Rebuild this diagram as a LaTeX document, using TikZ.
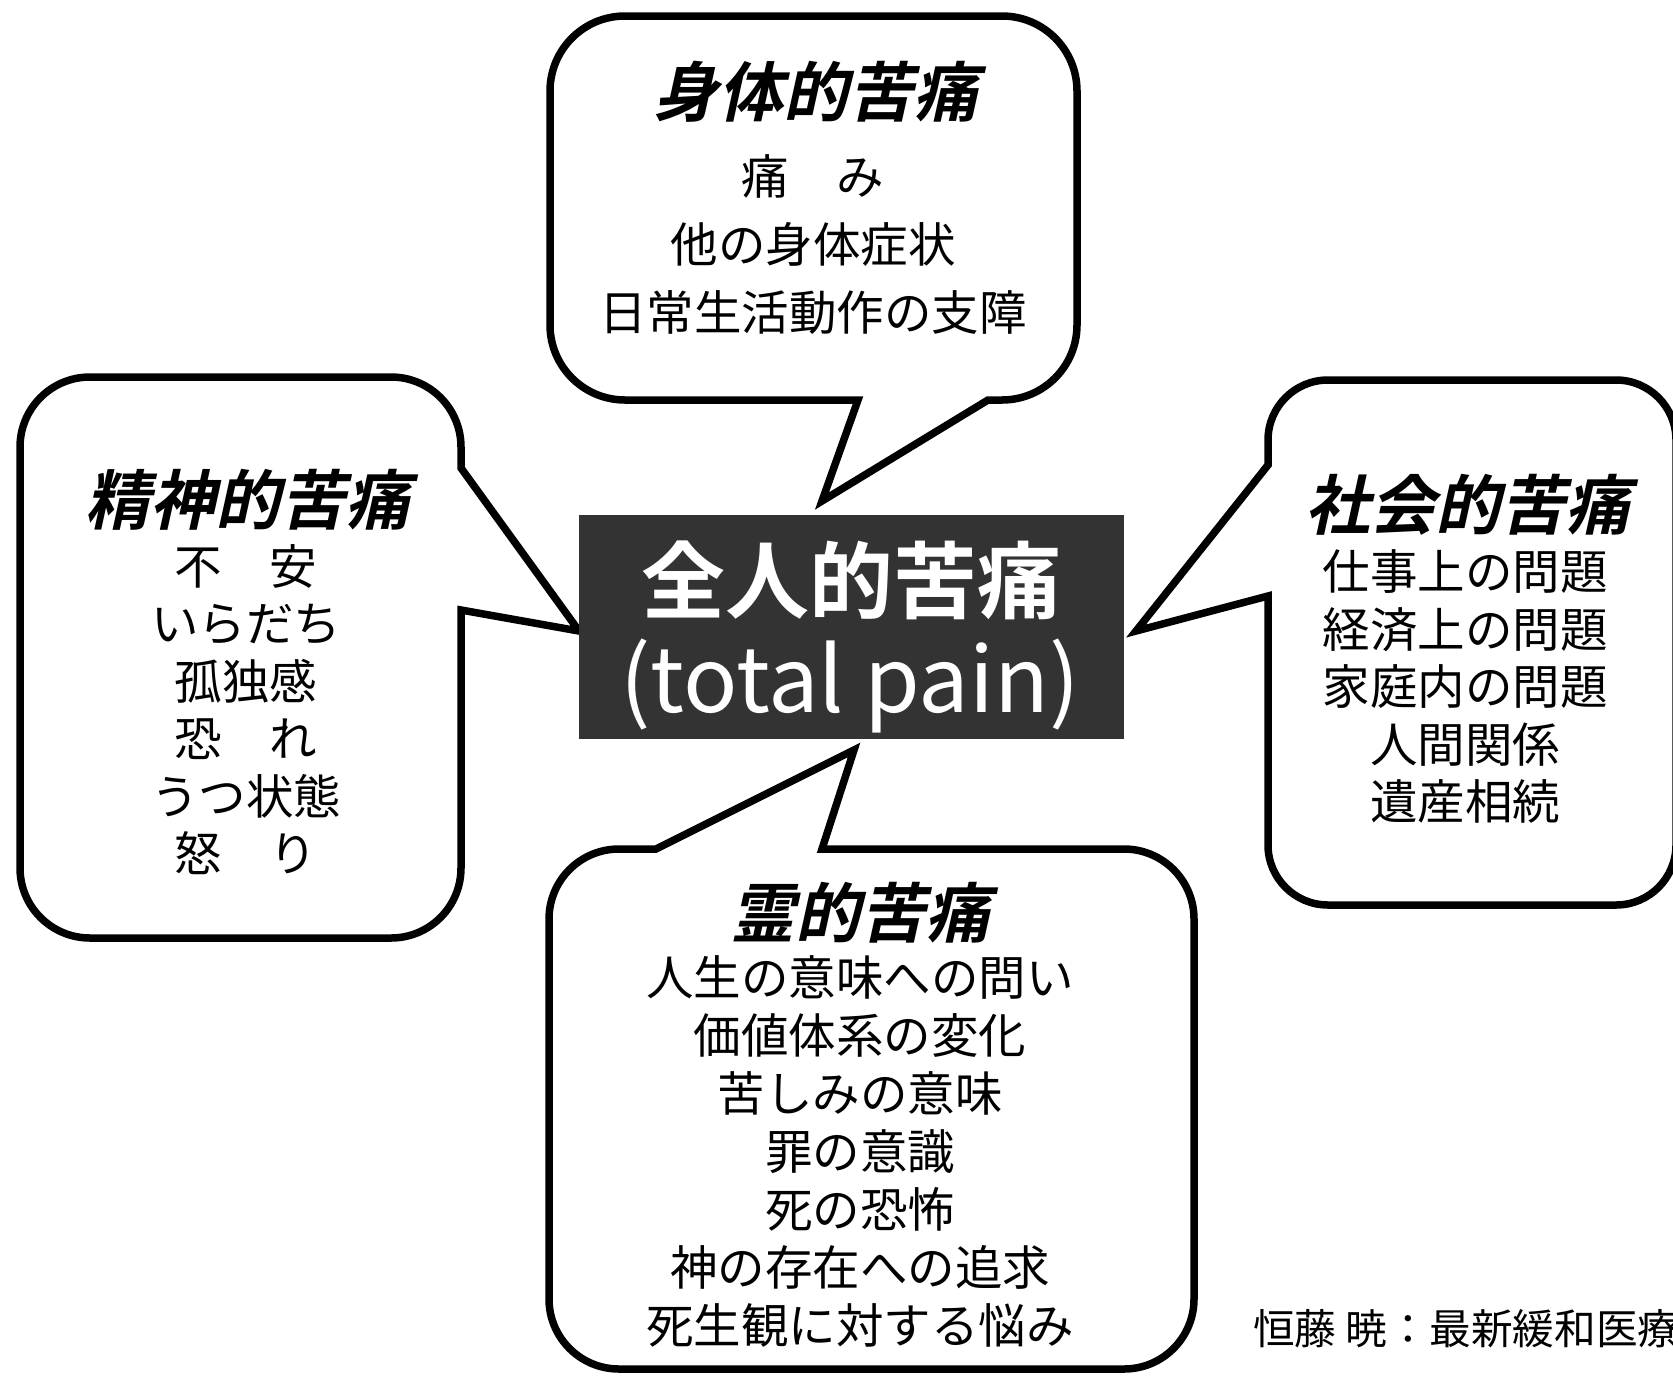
\documentclass[tikz,border=0pt]{standalone}
\usepackage{fontspec}
\setmainfont{Noto Sans CJK JP}
\newfontfamily\headfont[FakeSlant=0.22]{Noto Sans CJK JP Bold}
\newfontfamily\corefont{Noto Sans CJK JP Bold}
\definecolor{coregray}{HTML}{333333}
\tikzset{
	bubble/.style={draw=black, line width=7.5pt, fill=white},
	bubblehead/.style={font=\headfont\fontsize{65}{70}\selectfont, inner sep=0pt},
	bubbletext/.style={font=\fontsize{47.5}{57.5}\selectfont, align=center, inner sep=0pt},
	corebox/.style={fill=coregray, minimum width=545pt, minimum height=224pt, inner sep=0pt},
}

\begin{document}
\begin{tikzpicture}[x=1pt, y=-1pt]
		\useasboundingbox (0,0) rectangle (1673,1377);

		\draw[bubble] (625,16) -- (1002,16) arc[start angle=-90, end angle=0, radius=75] -- (1077,325) arc[start angle=0, end angle=90, radius=75] -- (988,400) -- (822,501) -- (858,400) -- (625,400) arc[start angle=90, end angle=180, radius=75] -- (550,91) arc[start angle=180, end angle=270, radius=75] -- cycle;
		\draw[bubble] (90,377) -- (391,377) arc[start angle=-90, end angle=0, radius=70] -- (461,468) -- (579,631) -- (461,610) -- (461,868) arc[start angle=0, end angle=90, radius=70] -- (90,938) arc[start angle=90, end angle=180, radius=70] -- (20,447) arc[start angle=180, end angle=270, radius=70] -- cycle;
		\draw[bubble] (1328,380) -- (1616,380) arc[start angle=-90, end angle=0, radius=60] -- (1676,845) arc[start angle=0, end angle=90, radius=60] -- (1328,905) arc[start angle=90, end angle=180, radius=60] -- (1268,596) -- (1136,631) -- (1268,465) -- (1268,440) arc[start angle=180, end angle=270, radius=60] -- cycle;
		\draw[bubble] (619,849) -- (656,849) -- (854,750) -- (822,849) -- (1124,849) arc[start angle=-90, end angle=0, radius=70] -- (1194,1299) arc[start angle=0, end angle=90, radius=70] -- (619,1369) arc[start angle=90, end angle=180, radius=70] -- (549,919) arc[start angle=180, end angle=270, radius=70] -- cycle;

		\node[corebox] (core) at (851.5,627) {};
		\node[font=\corefont\fontsize{84}{90}\selectfont, text=white, inner sep=0pt] (core-jp) at (851,580) {全人的苦痛};
		\node[font=\fontsize{90}{95}\selectfont, text=white, inner sep=0pt] (core-en) at (850,686) {(total pain)};

		\node[bubblehead] (body-head) at (816,92) {身体的苦痛};
		\node[bubbletext, font=\fontsize{47.5}{68}\selectfont] (body-list) at (813,245) {痛　み\\他の身体症状\\日常生活動作の支障};

		\node[bubblehead] (mind-head) at (248,500) {精神的苦痛};
		\node[bubbletext] (mind-list) at (246,709.5) {不　安\\いらだち\\孤独感\\恐　れ\\うつ状態\\怒　り};

		\node[bubblehead] (social-head) at (1468,505) {社会的苦痛};
		\node[bubbletext] (social-list) at (1465,686.5) {仕事上の問題\\経済上の問題\\家庭内の問題\\人間関係\\遺産相続};

		\node[bubblehead] (spirit-head) at (860,913) {霊的苦痛};
		\node[bubbletext, font=\fontsize{47.5}{58}\selectfont] (spirit-list) at (860,1151) {人生の意味への問い\\価値体系の変化\\苦しみの意味\\罪の意識\\死の恐怖\\神の存在への追求\\死生観に対する悩み};

		\node[font=\fontsize{41.7}{45}\selectfont, anchor=west, inner sep=0pt] (source) at (1253,1329) {恒藤 暁：最新緩和医療};
	\end{tikzpicture}
\end{document}
